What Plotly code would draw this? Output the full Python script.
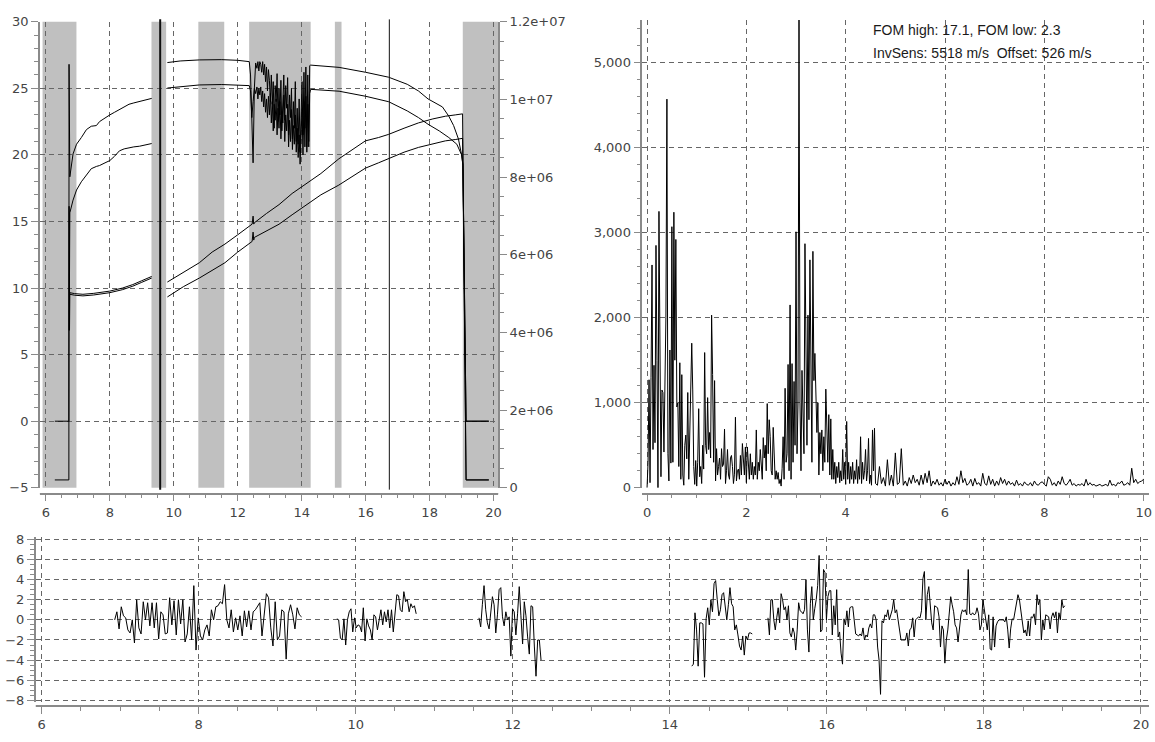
import numpy as np
import plotly.graph_objects as go

# ---------------- top-left panel data ----------------
bands = [(5.897, 6.957), (9.303, 9.761), (10.768, 11.578), (12.357, 14.28), (15.037, 15.245), (19.036, 20.146)]
marker_lines = [9.575, 16.74]
marker_widths = [2.0, 1.0]

noise_t = [12.36, 12.40, 12.44, 12.48, 12.52, 12.56] + list(np.round(np.arange(12.60, 14.281, 0.03), 2))
noise_hi = [27.0, 26.0, 22.5, 19.4, 25.0, 26.9, 26.5, 27.0, 26.3, 27.0, 26.8, 26.2, 27.0, 26.0, 26.8, 25.5,
            26.6, 24.8, 26.4, 25.6, 24.0, 26.0, 23.8, 25.5, 22.0, 25.2, 24.0, 26.1, 22.5, 25.0, 23.0, 25.6,
            21.8, 24.8, 26.0, 22.6, 25.2, 23.5, 25.8, 21.5, 24.5, 22.8, 25.0, 21.2, 24.0, 22.0, 25.5, 21.0,
            23.5, 20.8, 24.2, 20.2, 23.0, 25.5, 21.5, 26.2, 22.0, 26.6, 20.6, 26.0, 21.0, 26.7, 26.74]
noise_lo = [25.2, 24.8, 22.8, 24.0, 25.0, 24.6, 25.1, 24.2, 25.0, 24.5, 25.1, 24.0, 24.8, 23.6, 24.6, 23.2,
            24.2, 22.8, 24.4, 23.0, 24.6, 22.4, 24.0, 21.8, 23.8, 22.6, 24.2, 21.5, 23.5, 22.0, 24.0, 21.2,
            23.2, 22.4, 24.5, 21.0, 23.0, 21.8, 23.8, 20.6, 22.6, 21.0, 23.4, 20.4, 22.2, 20.8, 23.0, 20.2,
            22.0, 19.8, 21.5, 19.3, 21.0, 23.5, 20.0, 24.0, 20.6, 24.4, 20.2, 23.8, 20.6, 24.6, 24.92]

hi_x = ([6.28, 6.72, 6.725, 6.75, 6.85, 6.96, 7.11, 7.27, 7.42, 7.58, 7.68, 7.85, 8.0, 8.15, 8.3, 8.45,
         8.6, 8.75, 8.93, 9.1, 9.31, None, 9.8, 10.2, 10.8, 11.5, 12.0, 12.33] + noise_t +
        [15.17, 16.0, 16.72, 17.3, 17.65, 17.95, 18.2, 18.4, 18.6, 18.75, 18.9, 19.0, 19.04, 19.14, 19.85])
hi_y = ([-4.41, -4.41, 26.8, 18.35, 20.07, 20.8, 21.3, 21.9, 22.15, 22.2, 22.5, 22.8, 23.0, 23.2, 23.4, 23.6,
         23.8, 23.9, 24.0, 24.1, 24.24, None, 26.93, 27.05, 27.13, 27.15, 27.1, 27.0] + noise_hi +
        [26.57, 26.2, 25.83, 25.3, 24.8, 24.2, 23.9, 23.6, 22.9, 22.2, 21.2, 20.0, 19.2, -4.41, -4.41])

lo_x = ([6.28, 6.72, 6.727, 6.73, 6.75, 6.85, 6.96, 7.11, 7.27, 7.42, 7.58, 7.68, 7.85, 8.0, 8.15, 8.3,
         8.45, 8.6, 8.75, 8.93, 9.1, 9.31, None, 9.8, 10.8, 11.5, 12.0, 12.33] + noise_t +
        [15.17, 16.0, 16.72, 17.3, 17.65, 17.95, 18.3, 18.6, 18.85, 19.0, 19.04, 19.14, 19.85])
lo_y = ([0.0, 0.0, 16.14, 6.83, 15.65, 16.6, 17.36, 17.98, 18.47, 18.96, 19.13, 19.2, 19.4, 19.57, 19.9, 20.3,
         20.45, 20.55, 20.6, 20.65, 20.75, 20.85, None, 25.02, 25.25, 25.28, 25.25, 25.2] + noise_lo +
        [24.78, 24.4, 23.99, 23.3, 22.8, 22.3, 21.8, 21.3, 20.8, 20.0, 19.3, 0.0, 0.0])

# second pair of quantities
u_x = [6.74, 6.75, 6.9, 7.16, 7.5, 8.0, 8.4, 8.72, 9.0, 9.31]
u_hi = [6.83, 9.65, 9.58, 9.53, 9.6, 9.77, 10.0, 10.26, 10.55, 10.87]
u_lo = [9.53, 9.53, 9.46, 9.41, 9.48, 9.65, 9.88, 10.14, 10.43, 10.75]

r_x = [9.8, 10.3, 10.8, 11.2, 11.6, 12.0, 12.45, 12.48, 12.5, 12.52, 12.9, 13.29, 13.7, 14.12, 14.6,
       15.16, 15.6, 15.99, 16.4, 16.72, 17.2, 17.65, 18.1, 18.49, 18.8, 19.03, 19.14, 19.85]
r_hi = [10.45, 11.2, 11.9, 12.7, 13.3, 14.0, 14.8, 15.4, 14.8, 14.9, 15.6, 16.26, 17.1, 17.8, 18.6,
        19.7, 20.4, 21.05, 21.3, 21.54, 22.0, 22.4, 22.7, 22.9, 23.0, 23.08, -4.41, -4.41]
r_lo = [9.33, 10.1, 10.75, 11.3, 11.9, 12.7, 13.5, 14.2, 13.6, 13.8, 14.3, 14.79, 15.5, 16.2, 17.0,
        17.73, 18.4, 19.0, 19.4, 19.7, 20.2, 20.56, 20.85, 21.05, 21.15, 21.24, 0.0, 0.0]

left_ticks = [-5, 0, 5, 10, 15, 20, 25, 30]
right_tickvals = [0, 2e6, 4e6, 6e6, 8e6, 1e7, 1.2e7]
right_ticktext = ["0", "2e+06", "4e+06", "6e+06", "8e+06", "1e+07", "1.2e+07"]

# ---------------- top-right panel data (spectrum) ----------------
spec_a = [0, 300, 1270, 60, 1300,
          2620, 450, 1440, 530, 2850,
          1500, 0, 3250, 900, 130,
          1150, 1120, 420, 1180, 2000,
          4570, 400, 80, 1620, 290,
          3070, 300, 3240, 1500, 2920,
          950, 1000, 250, 1470, 100,
          1330, 150, 30, 500, 620,
          340, 1120, 100, 640, 1090,
          1700, 1150, 250, 40, 320,
          20, 300, 930, 130, 250,
          50, 500, 220, 1590, 500,
          400, 1060, 450, 650, 350,
          2030, 1330, 300, 1260, 80,
          460, 150, 250, 350, 100,
          460, 250, 280, 690, 50,
          200, 450, 150, 100, 350,
          380, 250, 50, 160, 830,
          80, 200, 220, 100, 380,
          150, 520, 250, 150, 480,
          60, 480, 200, 100, 400,
          150, 300, 100, 250, 150,
          680, 100, 300, 200, 450,
          250, 100, 590, 350, 500,
          200, 990, 400, 800, 600,
          200, 150, 710, 250, 100,
          200, 100, 180, 50, 100,
          20, 230, 600, 100, 1170,
          300, 400, 1450, 200, 2150,
          100, 1460, 300, 1250, 500,
          3010, 400, 1000, 5500, 1000,
          200, 1380, 900, 400, 2870,
          1200, 500, 2030, 800, 2680,
          1000, 300, 2780, 1260, 1580,
          1000, 650, 1000, 150, 650,
          400, 680, 200, 600, 300,
          1160, 600, 300, 860, 150,
          810, 100, 450, 100, 300,
          50, 250, 120, 300, 60,
          200, 80, 450, 100, 300,
          40, 780, 100, 300, 50,
          250, 100, 300, 50, 200,
          100, 330, 50, 250, 100,
          600, 50, 300, 100, 200,
          450, 80, 200, 580, 50,
          150, 30, 680, 200, 700,
          50]
spec_b = [30, 250, 50, 120, 20, 330, 30, 150, 20, 410, 40, 60, 460, 30, 80, 20, 120, 50, 150, 60,
          100, 30, 150, 40, 170, 60, 200, 20, 80, 40, 100, 30, 60, 20, 100, 40, 80, 20, 60, 30,
          130, 40, 200, 60, 110, 30, 50, 100, 20, 110, 40, 60, 20, 170, 50, 30, 140, 40, 100, 20,
          80, 30, 120, 50, 100, 30, 80, 40, 60, 20, 90, 30, 50, 20, 70, 40, 30, 60, 20, 80,
          40, 30, 60, 70, 40, 20, 130, 100, 30, 60, 20, 80, 40, 130, 50, 30, 60, 100, 30, 50,
          20, 40, 30, 50, 20, 100, 30, 60, 30, 40, 20, 30, 40, 20, 30, 40, 20, 90, 30, 40,
          20, 60, 50, 80, 30, 40, 60, 30, 230, 60, 100, 50, 70, 80, 100]
freq_a = np.round(np.arange(len(spec_a)) * 0.02, 3)
freq_b = np.round(4.64 + np.arange(len(spec_b)) * 0.04, 3)
freq = np.concatenate([freq_a, freq_b])
spec = spec_a + spec_b

note_lines = ["FOM high: 17.1, FOM low: 2.3", "InvSens: 5518 m/s\u00a0 Offset: 526 m/s"]

# ---------------- bottom panel data (residual) ----------------
res_segments = [
    (6.93, 9.31, [0.0, 0.8, -0.9, 1.3, 0.4, 0.2, -1.0, -1.3, 0.0, -2.3, 2.0, -0.8, -1.4, 1.8, 0.0, 1.7,
                  -0.6, 1.7, -0.8, 1.7, -1.9, 0.8, 0.5, -1.4, -1.3, 2.2, -0.5, 1.9, -1.5, 2.0, -0.4, 2.0,
                  -2.2, -1.4, 1.3, -2.0, 3.4, -3.0, 0.2, -1.6, -2.0, -1.0, -0.5, -1.6, 1.0, 0.0, 1.3, 1.4,
                  1.8, 1.6, 3.5, 0.0, -0.8, 1.0, -1.2, 0.2, -1.0, 0.4, -1.6, 0.9, -0.7, 0.9, -1.0, 0.8,
                  1.0, 1.4, 1.7, -1.6, 0.2, 2.6, 2.2, -0.8, -2.6, 1.8, -2.0, -1.6, 1.0, 0.8, -3.9, 0.6,
                  1.5, 0.5, -0.9, 1.2, 0.5, 0.3]),
    (9.76, 10.77, [0.1, 0.0, -1.8, -2.0, 0.1, -2.5, 0.0, 0.8, 1.1, -1.2, 0.2, -0.8, -0.5, -0.6, -1.2, 1.2,
                   -2.1, 0.1, -0.6, -1.0, -2.0, 0.5, 0.3, -1.0, 0.0, 1.0, -0.5, 0.8, -0.2, 1.0, -0.8, 1.0,
                   -1.2, 0.5, 2.5, 2.4, 1.0, 0.8, 2.8, 1.8, 2.0, 0.8, 1.6, 1.2, 1.4, 0.6]),
    (11.57, 12.36, [0.2, -0.7, 1.5, 3.4, 1.0, -0.3, -0.9, 1.0, 2.3, 1.5, -1.3, 0.5, 3.0, 3.2, 0.3, -0.6,
                    0.8, 0.0, 0.3, -3.6, 1.1, 0.8, -1.5, 0.6, 3.3, 0.4, -2.4, 1.8, 0.4, -1.7, -3.4, 1.4,
                    1.3, -2.6, -5.6, -2.0, -2.0, -4.0]),
    (14.28, 15.05, [-4.6, -4.4, 0.7, -1.0, -4.6, -0.3, -0.3, -0.4, -5.7, 0.1, 1.2, -0.5, 2.0, 0.8, 3.6, 3.9,
                    2.0, 0.4, 1.0, 2.5, 2.7, 1.0, 0.0, 1.5, 3.2, 1.6, 1.3, -1.0, -0.5, -1.5, -2.6, -3.0,
                    -1.6, -3.5, -1.6, -2.0, -1.3, -1.3, -1.4]),
    (15.25, 19.03, [0.2, -1.5, 2.0, 2.0, 0.0, -1.0, 0.2, 1.2, -0.3, 2.6, 2.0, 1.0, 1.3, 0.0, 1.4, -1.3,
                    -1.7, -0.8, -1.3, -3.0, -1.0, 1.7, 0.9, 0.8, 0.6, 1.0, 4.0, -1.0, -3.2, 1.6, 3.3, 0.0,
                    1.1, 2.0, 3.4, 6.4, -1.2, -1.0, 5.0, 4.7, 0.0, 2.3, 2.9, 2.9, -1.5, 1.4, -0.5, 3.0,
                    -1.7, -1.2, -3.3, -4.4, 0.1, -0.5, 0.9, -0.7, 1.2, 1.3, 1.3, -0.2, -1.4, -1.5, -1.6, -1.4,
                    -1.6, -0.8, -2.0, -1.5, -1.7, -0.8, -0.4, -0.8, 0.5, 0.5, 0.0, -2.7, -4.0, -7.4, -0.1, -0.3,
                    0.5, 0.3, 1.0, 0.0, 0.5, 1.0, 2.0, 0.7, 1.0, 0.0, -1.0, -2.0, -2.0, -2.0, -2.0, -1.3,
                    -2.6, -1.0, -0.8, 0.2, -1.7, 0.0, 0.2, 0.3, 0.2, 0.9, 4.1, 4.8, 0.0, 2.5, 3.3, 1.5,
                    -0.3, -1.0, 1.4, 1.3, 1.2, 0.3, -2.7, -0.6, -1.0, -4.3, -2.0, -1.0, 1.0, 2.3, 1.5, 0.8,
                    -0.5, -0.8, -2.2, -0.5, 0.5, 1.0, 0.8, 1.0, 0.5, 5.0, 0.6, 0.5, 0.7, 0.5, 0.6, 1.2,
                    0.6, -1.0, -0.5, 2.0, 1.0, 0.0, -1.0, 0.5, -2.9, -3.0, 0.3, -2.7, -0.6, -0.2, 0.0, 0.0,
                    0.0, 0.0, -0.2, 0.3, -1.0, -2.8, -0.9, 0.1, 0.0, 0.8, 1.5, 2.5, 2.0, 1.0, -0.5, -1.3,
                    -1.0, -1.6, -0.1, -1.6, 0.3, 0.2, 0.6, -0.5, 2.5, 1.5, 2.0, -2.0, 0.0, -1.0, 0.5, 0.4,
                    0.3, -0.9, 0.3, 0.7, 0.2, 0.8, -1.3, 0.7, 0.0, 2.0, 1.2, 1.4]),
]
res_x, res_y = [], []
for t0, t1, vals in res_segments:
    res_x += list(np.linspace(t0, t1, len(vals))) + [None]
    res_y += vals + [None]

# ---------------- figure ----------------
W, H = 1155, 742
def px(x):
    return x / W
def py(y):
    return 1 - y / H

LINE = dict(color="black", width=1)
fig = go.Figure()
fig.add_trace(go.Scatter(x=hi_x, y=hi_y, mode="lines", line=LINE, xaxis="x", yaxis="y"))
fig.add_trace(go.Scatter(x=lo_x, y=lo_y, mode="lines", line=LINE, xaxis="x", yaxis="y"))
fig.add_trace(go.Scatter(x=u_x, y=u_hi, mode="lines", line=LINE, xaxis="x", yaxis="y"))
fig.add_trace(go.Scatter(x=u_x, y=u_lo, mode="lines", line=LINE, xaxis="x", yaxis="y"))
fig.add_trace(go.Scatter(x=r_x, y=r_hi, mode="lines", line=LINE, xaxis="x", yaxis="y"))
fig.add_trace(go.Scatter(x=r_x, y=r_lo, mode="lines", line=LINE, xaxis="x", yaxis="y"))
fig.add_trace(go.Scatter(x=[None], y=[None], mode="lines", xaxis="x", yaxis="y2", hoverinfo="skip"))
fig.add_trace(go.Scatter(x=freq, y=spec, mode="lines", line=LINE, xaxis="x2", yaxis="y3"))
fig.add_trace(go.Scatter(x=res_x, y=res_y, mode="lines", line=LINE, xaxis="x3", yaxis="y4", connectgaps=False))

for x0, x1 in bands:
    fig.add_shape(type="rect", xref="x", yref="y domain", x0=x0, x1=x1, y0=0, y1=1,
                  fillcolor="#c0c0c0", line=dict(width=0), layer="below")
for xm, wm in zip(marker_lines, marker_widths):
    fig.add_shape(type="line", xref="x", yref="y domain", x0=xm, x1=xm, y0=-0.004, y1=1.005,
                  line=dict(color="#111", width=wm), layer="above")

AXCOL = "#8a8a8a"
TF = dict(family="DejaVu Sans", size=13, color="#444")
GRID = dict(showgrid=True, gridcolor="#666", gridwidth=1, griddash="5px,4px")
AX = dict(ticks="outside", ticklen=7, tickcolor=AXCOL, tickwidth=1.3, showline=True, linecolor=AXCOL,
          linewidth=1.5, zeroline=False, tickfont=TF)

def minor(t0, dt):
    return dict(tickmode="linear", tick0=t0, dtick=dt, ticklen=4, tickwidth=1.3, tickcolor=AXCOL,
                ticks="outside", showgrid=False)

xpos_top = py(496.7)
xpos_bot = py(713.3)
fig.update_layout(
    width=W, height=H, margin=dict(l=0, r=0, t=0, b=0), showlegend=False,
    paper_bgcolor="white", plot_bgcolor="white",
    xaxis=dict(domain=[px(40), px(500)], range=[5.813, 20.146], anchor="free", position=xpos_top,
               tickmode="array", tickvals=list(range(6, 21, 2)), minor=minor(6, 0.5), **GRID, **AX),
    yaxis=dict(domain=[py(490.7), py(15)], range=[-5, 30], anchor="x", tickmode="array", tickvals=left_ticks,
               minor=minor(-5, 1), **GRID, **AX),
    yaxis2=dict(overlaying="y", side="right", anchor="x", range=[0, 1.2e7], tickmode="array",
                tickvals=right_tickvals, ticktext=right_ticktext, showgrid=False,
                minor=minor(0, 5e5), **AX),
    xaxis2=dict(domain=[px(644.5), px(1153)], range=[-0.0963, 10.108], anchor="free", position=xpos_top,
                tickmode="array", tickvals=list(range(0, 11, 2)), minor=minor(0, 0.5), **GRID, **AX),
    yaxis3=dict(domain=[py(490.7), py(13.3)], range=[0, 5500], anchor="x2", tickmode="linear", tick0=0,
                dtick=1000, tickformat=",", minor=minor(0, 200), **GRID, **AX),
    xaxis3=dict(domain=[px(35.8), px(1153)], range=[5.9238, 20.103], anchor="free", position=xpos_bot,
                tickmode="array", tickvals=list(range(6, 21, 2)), minor=minor(6, 0.5), **GRID, **AX),
    yaxis4=dict(domain=[py(709.75), py(541.25)], range=[-8.2, 8.2], anchor="x3", tickmode="array",
                tickvals=list(range(-8, 9, 2)), minor=minor(-8, 0.5), **GRID, **AX),
)
# explicit baseline lines for the offset (free-positioned) x axes
for xr, ypos in (("x domain", xpos_top), ("x2 domain", xpos_top), ("x3 domain", xpos_bot)):
    fig.add_shape(type="line", xref=xr, yref="paper", x0=0, x1=1, y0=ypos, y1=ypos,
                  line=dict(color=AXCOL, width=1.5), layer="above")

for i, txt in enumerate(note_lines):
    fig.add_annotation(text=txt, xref="paper", yref="paper", x=px(874), y=py(23 + 23.5 * i),
                       xanchor="left", yanchor="middle", showarrow=False,
                       font=dict(family="Liberation Sans", size=14, color="#1a1a1a"))

fig.write_html("out.html")
